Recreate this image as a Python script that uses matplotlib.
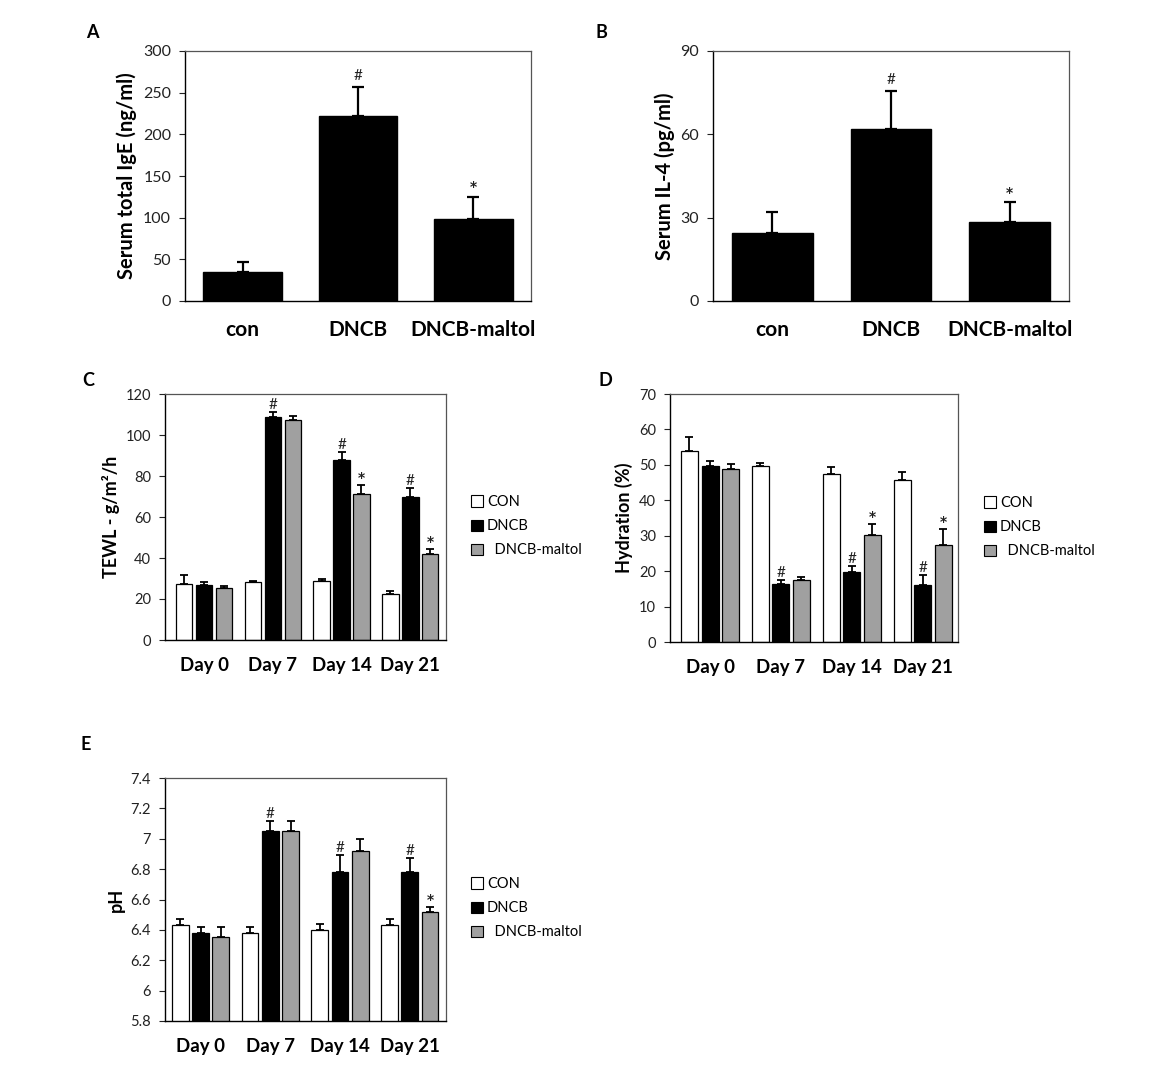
import matplotlib
matplotlib.use("Agg")
import matplotlib.pyplot as plt
import numpy as np
from matplotlib.patches import Patch

plt.rcParams['font.family'] = ['Lato', 'DejaVu Sans']

W, H = 1164, 1086

# ---------------- data ----------------
groups_ab = ["con", "DNCB", "DNCB-maltol"]
ige_mean = [35, 222, 99]
ige_err = [12, 35, 26]
ige_marks = ["", "#", "*"]

il4_mean = [24.5, 62, 28.5]
il4_err = [7.5, 13.5, 7]
il4_marks = ["", "#", "*"]

days = ["Day 0", "Day 7", "Day 14", "Day 21"]
series = ["CON", "DNCB", "DNCB-maltol"]

tewl_con = [27.5, 28.5, 29, 22.5]
tewl_con_err = [4, 0.5, 1, 1.5]
tewl_dncb = [27, 109, 88, 70]
tewl_dncb_err = [1.2, 2, 3.5, 4]
tewl_mal = [25.5, 107.5, 71, 42]
tewl_mal_err = [0.8, 2, 4.5, 2.5]
tewl_marks_dncb = ["", "#", "#", "#"]
tewl_marks_mal = ["", "", "*", "*"]

hyd_con = [54, 49.8, 47.5, 45.8]
hyd_con_err = [3.8, 0.7, 1.8, 2.2]
hyd_dncb = [49.8, 16.3, 19.7, 16]
hyd_dncb_err = [1.3, 1.2, 1.8, 3]
hyd_mal = [48.8, 17.5, 30.3, 27.5]
hyd_mal_err = [1.4, 0.8, 3, 4.3]
hyd_marks_dncb = ["", "#", "#", "#"]
hyd_marks_mal = ["", "", "*", "*"]

ph_con = [6.43, 6.38, 6.40, 6.43]
ph_con_err = [0.04, 0.04, 0.04, 0.04]
ph_dncb = [6.38, 7.05, 6.78, 6.78]
ph_dncb_err = [0.04, 0.07, 0.11, 0.09]
ph_mal = [6.35, 7.05, 6.92, 6.52]
ph_mal_err = [0.07, 0.07, 0.08, 0.03]
ph_marks_dncb = ["", "#", "#", "#"]
ph_marks_mal = ["", "", "", "*"]

# ---------------- figure ----------------
fig = plt.figure(figsize=(W / 100, H / 100), dpi=100)


def ax_px(l, t, r, b):
    return fig.add_axes([l / W, 1 - b / H, (r - l) / W, (b - t) / H])


def style(ax, ysize):
    for s in ['top', 'right']:
        ax.spines[s].set_color('#555555')
        ax.spines[s].set_linewidth(0.9)
    for s in ['left', 'bottom']:
        ax.spines[s].set_color('black')
        ax.spines[s].set_linewidth(1.0)
    ax.tick_params(axis='y', direction='out', length=4, width=0.8, labelsize=ysize,
                   colors='#222222', pad=6)
    ax.tick_params(axis='x', length=0)


def add_marks(ax, xs, tops, marks, dy):
    for x, t, m in zip(xs, tops, marks):
        if m:
            if m == '#':
                ax.annotate(m, (x, t), xytext=(0, dy), textcoords='offset points',
                            ha='center', va='bottom', fontsize=11, color='#222222')
            else:
                ax.annotate(m, (x, t), xytext=(0, dy - 1), textcoords='offset points',
                            ha='center', va='bottom', fontsize=10, color='#222222',
                            family='DejaVu Sans', fontweight='bold')


def single_panel(ax, means, errs, marks, ylim, yticks, ylabel):
    x = np.arange(len(groups_ab))
    ax.bar(x, means, width=0.68, color='black', edgecolor='black', zorder=2)
    ax.errorbar(x, means, yerr=[np.zeros(len(x)), errs], fmt='none', ecolor='black',
                elinewidth=1.6, capsize=4, capthick=1.6, zorder=3)
    add_marks(ax, x, np.array(means) + np.array(errs), marks, 3)
    ax.set_xlim(-0.5, 2.5)
    ax.set_ylim(*ylim)
    ax.set_yticks(yticks)
    ax.set_xticks(x)
    ax.set_xticklabels(groups_ab, fontsize=15, fontweight='bold')
    ax.tick_params(axis='x', pad=14)
    ax.set_ylabel(ylabel, fontsize=14.5, fontweight='bold', labelpad=4)
    style(ax, 11.5)


def grouped_panel(ax, data, errs, marks_d, marks_m, ylim, yticks, ylabel, xlim, leg_xy):
    x = np.arange(len(days))
    off = 0.29
    wid = 0.24
    colors = ['white', 'black', '#a0a0a0']
    for k, (vals, ee) in enumerate(zip(data, errs)):
        xs = x + (k - 1) * off
        ax.bar(xs, vals, width=wid, color=colors[k], edgecolor='black', linewidth=0.9,
               zorder=2)
        ax.errorbar(xs, vals, yerr=[np.zeros(len(xs)), ee], fmt='none', ecolor='black',
                    elinewidth=1.3, capsize=3, capthick=1.3, zorder=3)
        if k == 1:
            add_marks(ax, xs, np.array(vals) + np.array(ee), marks_d, 0)
        if k == 2:
            add_marks(ax, xs, np.array(vals) + np.array(ee), marks_m, 1)
    ax.set_xlim(*xlim)
    ax.set_ylim(*ylim)
    ax.set_yticks(yticks)
    ax.set_xticks(x)
    ax.set_xticklabels(days, fontsize=13.5, fontweight='bold')
    ax.tick_params(axis='x', pad=12)
    ax.set_ylabel(ylabel, fontsize=13, fontweight='bold', labelpad=4)
    style(ax, 10.5)
    handles = [Patch(facecolor=c, edgecolor='black', linewidth=0.8) for c in colors]
    labels = [series[0], series[1], "  " + series[2]]
    fig.legend(handles, labels, loc='upper left',
               bbox_to_anchor=(leg_xy[0] / W, 1 - leg_xy[1] / H), frameon=False,
               fontsize=10.5, handlelength=0.8, handleheight=0.8, handletextpad=0.3,
               labelspacing=0.7, borderaxespad=0, borderpad=0)


# Panel A
axA = ax_px(185, 51, 531, 301)
single_panel(axA, ige_mean, ige_err, ige_marks, (0, 300), np.arange(0, 301, 50),
             "Serum total IgE (ng/ml)")
# Panel B
axB = ax_px(713, 51, 1069, 301)
single_panel(axB, il4_mean, il4_err, il4_marks, (0, 90), np.arange(0, 91, 30),
             "Serum IL-4 (pg/ml)")
# Panel C
axC = ax_px(165, 394, 446, 640)
grouped_panel(axC, [tewl_con, tewl_dncb, tewl_mal],
              [tewl_con_err, tewl_dncb_err, tewl_mal_err],
              tewl_marks_dncb, tewl_marks_mal, (0, 120), np.arange(0, 121, 20),
              "TEWL - g/m²/h", (-0.57, 3.52), (471, 495))
# Panel D
axD = ax_px(670, 394, 958, 642)
grouped_panel(axD, [hyd_con, hyd_dncb, hyd_mal],
              [hyd_con_err, hyd_dncb_err, hyd_mal_err],
              hyd_marks_dncb, hyd_marks_mal, (0, 70), np.arange(0, 71, 10),
              "Hydration (%)", (-0.565, 3.5), (984, 496))
# Panel E
axE = ax_px(165, 778, 446, 1021)
grouped_panel(axE, [ph_con, ph_dncb, ph_mal],
              [ph_con_err, ph_dncb_err, ph_mal_err],
              ph_marks_dncb, ph_marks_mal, (5.8, 7.4), np.round(np.arange(5.8, 7.41, 0.2), 1),
              "pH", (-0.51, 3.52), (471, 877))
axE.set_yticklabels([f"{v:g}" for v in np.round(np.arange(5.8, 7.41, 0.2), 1)])

# panel letters
for lab, (px, py) in {"A": (92, 33), "B": (601, 33), "C": (88, 380), "D": (605, 380),
                      "E": (86, 745)}.items():
    fig.text(px / W, 1 - py / H, lab, fontsize=13, fontweight='bold', ha='center',
             va='center')

fig.savefig("out.png", dpi=100)
